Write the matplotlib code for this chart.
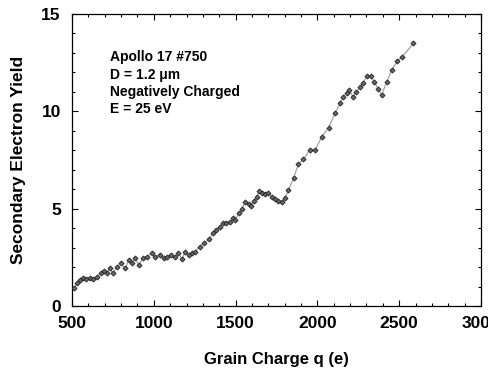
## Secondary electron yield vs grain charge (Apollo 17 grain)
import matplotlib
matplotlib.use('Agg')
import matplotlib.pyplot as plt
from matplotlib.ticker import MultipleLocator

plt.rcParams['font.family'] = ['Liberation Sans', 'DejaVu Sans']
plt.rcParams['font.weight'] = 'bold'

charge = [514, 531, 547, 567, 588, 608, 628, 653, 677, 697, 714, 730, 750, 775,
	799, 826, 846, 866, 887, 907, 934, 958, 989, 1009, 1035, 1060, 1080, 1105,
	1131, 1151, 1172, 1192, 1213, 1233, 1253, 1280, 1308, 1335, 1361, 1382,
	1402, 1422, 1443, 1467, 1483, 1498, 1518, 1538, 1559, 1579, 1593, 1614,
	1630, 1646, 1660, 1681, 1701, 1721, 1742, 1762, 1783, 1803, 1823, 1854,
	1884, 1915, 1952, 1986, 2027, 2068, 2108, 2139, 2159, 2180, 2196, 2216,
	2237, 2261, 2281, 2302, 2326, 2347, 2373, 2393, 2424, 2454, 2489, 2515, 2587]
yield_ = [0.91, 1.16, 1.34, 1.42, 1.40, 1.46, 1.37, 1.51, 1.68, 1.82, 1.71, 1.93,
	1.68, 2.02, 2.19, 1.93, 2.36, 2.19, 2.45, 2.11, 2.45, 2.53, 2.71, 2.53, 2.62,
	2.45, 2.53, 2.62, 2.53, 2.71, 2.40, 2.79, 2.62, 2.71, 2.79, 3.05, 3.22, 3.42,
	3.73, 3.90, 4.08, 4.25, 4.28, 4.33, 4.50, 4.42, 4.76, 4.97, 5.36, 5.24, 5.14,
	5.39, 5.62, 5.92, 5.79, 5.74, 5.82, 5.62, 5.48, 5.39, 5.36, 5.53, 5.96, 6.56,
	7.29, 7.53, 8.01, 8.01, 8.70, 9.16, 9.90, 10.41, 10.75, 10.92, 11.10, 10.75,
	11.01, 11.23, 11.47, 11.82, 11.82, 11.52, 11.13, 10.84, 11.52, 12.12, 12.60,
	12.77, 13.49]

notes = ['Apollo 17 #750', 'D = 1.2 \u03bcm', 'Negatively Charged', 'E = 25 eV']

f = plt.figure(figsize=(4.88, 3.71), dpi=100)
ax = f.add_axes([0.1475, 0.1752, 0.8382, 0.7871])

ax.plot(charge, yield_, '-', color='#999999', lw=0.8, zorder=2)
ax.plot(charge, yield_, 'D', ms=2.6, mfc='#666666', mec='#222222', mew=0.6,
	ls='none', zorder=3)

ax.set_xlim(500, 3000)
ax.set_ylim(0, 15)
ax.xaxis.set_major_locator(MultipleLocator(500))
ax.xaxis.set_minor_locator(MultipleLocator(100))
ax.yaxis.set_major_locator(MultipleLocator(5))
ax.yaxis.set_minor_locator(MultipleLocator(1))
ax.tick_params(which='both', direction='in', top=True, right=True,
	labelsize=12.5, width=0.8)
ax.tick_params(which='major', length=4)
ax.tick_params(which='minor', length=2)
ax.tick_params(axis='x', pad=7)
ax.tick_params(axis='y', pad=8)
for s in ax.spines.values():
	s.set_linewidth(0.9)

ax.set_xlabel('Grain Charge q (e)', fontsize=12, fontweight='bold', labelpad=15)
ax.set_ylabel('Secondary Electron Yield', fontsize=12.5, fontweight='bold', labelpad=11)

ax.text(0.093, 0.875, '\n'.join(notes), transform=ax.transAxes, fontsize=10,
	fontweight='bold', va='top', ha='left', linespacing=1.3)

f.savefig('out.png', dpi=100)
